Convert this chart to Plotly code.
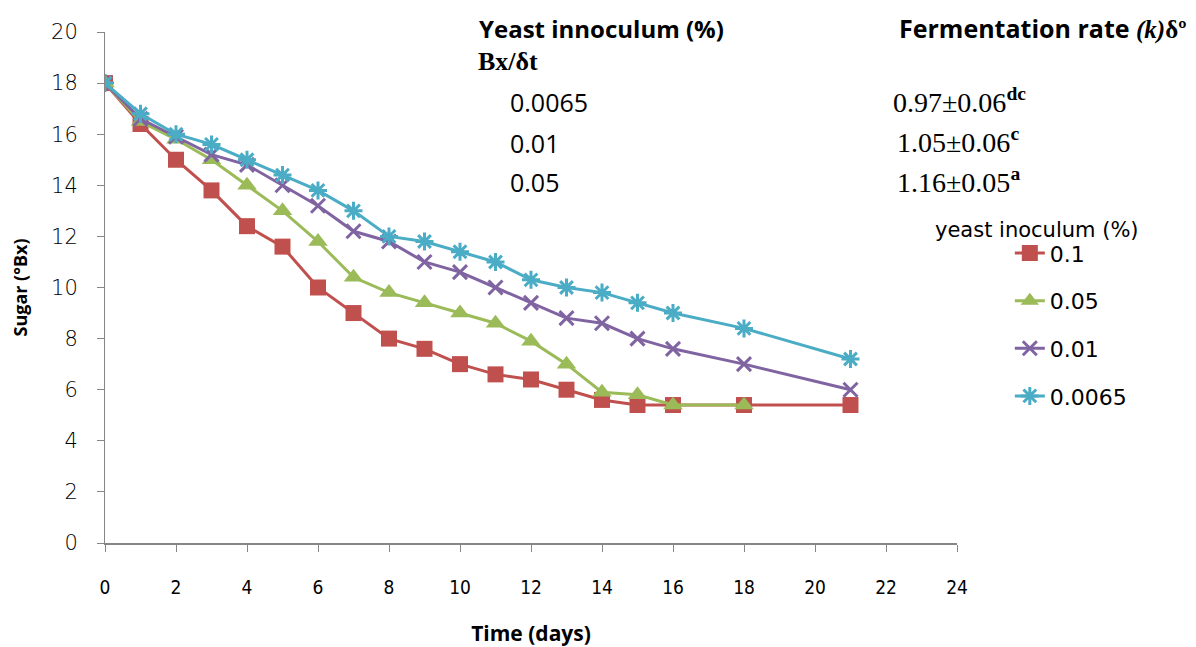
import plotly.graph_objects as go

days = [0, 1, 2, 3, 4, 5, 6, 7, 8, 9, 10, 11, 12, 13, 14, 15, 16, 18, 21]
sugar_01 = [18, 16.4, 15, 13.8, 12.4, 11.6, 10, 9, 8, 7.6, 7, 6.6, 6.4, 6, 5.6, 5.4, 5.4, 5.4, 5.4]
days_005 = [0, 1, 2, 3, 4, 5, 6, 7, 8, 9, 10, 11, 12, 13, 14, 15, 16, 18]
sugar_005 = [18, 16.5, 15.8, 15, 14, 13, 11.8, 10.4, 9.8, 9.4, 9, 8.6, 7.9, 7, 5.9, 5.8, 5.4, 5.4]
sugar_001 = [18, 16.6, 15.9, 15.2, 14.8, 14, 13.2, 12.2, 11.8, 11, 10.6, 10, 9.4, 8.8, 8.6, 8, 7.6, 7, 6]
sugar_00065 = [18, 16.8, 16, 15.6, 15, 14.4, 13.8, 13, 12, 11.8, 11.4, 11, 10.3, 10, 9.8, 9.4, 9, 8.4, 7.2]

series_names = ["0.1", "0.05", "0.01", "0.0065"]
x_ticks = list(range(0, 25, 2))
y_ticks = list(range(0, 21, 2))

table_inoculum = ["0.0065", "0.01", "0.05"]
table_rate = ["0.97±0.06", "1.05±0.06", "1.16±0.05"]
table_sup = ["dc", "c", "a"]

colors = ["#C0504D", "#9BBB59", "#8064A2", "#4BACC6"]
symbols = ["square", "triangle-up", "x-thin-open", "asterisk-open"]
sizes = [16, 17, 14, 15]
xs = [days, days_005, days, days]
ys = [sugar_01, sugar_005, sugar_001, sugar_00065]

fig = go.Figure()
for i in range(4):
    marker = dict(symbol=symbols[i], size=sizes[i], color=colors[i],
                  line=dict(color=colors[i], width=3 if i >= 2 else 0))
    fig.add_trace(go.Scatter(
        x=xs[i], y=ys[i], mode="lines+markers", name=series_names[i],
        legendgroup=f"g{i}",
        line=dict(color=colors[i], width=3),
        marker=marker,
    ))

grey = "#868686"
fig.update_layout(
    width=1196, height=647,
    paper_bgcolor="white", plot_bgcolor="white",
    margin=dict(l=97, r=247, t=18, b=112),
    showlegend=True,
    legend=dict(
        x=1.062, xanchor="left", y=0.608, yanchor="top",
        font=dict(family="DejaVu Sans", size=22, color="#000"),
        traceorder="grouped", tracegroupgap=16,
        bgcolor="rgba(0,0,0,0)", itemwidth=30,
    ),
    xaxis=dict(
        range=[0, 24], tickvals=x_ticks, showgrid=False, zeroline=False,
        showline=True, linecolor=grey, linewidth=2,
        ticks="outside", ticklen=7, tickcolor=grey, tickwidth=1,
        ticklabelstandoff=19,
        tickfont=dict(family="DejaVu Sans Condensed", size=19, color="#000"),
        title=dict(text="<b>Time (days)</b>", standoff=30,
                   font=dict(family="Open Sans", size=21, color="#000")),
    ),
    yaxis=dict(
        range=[0, 20], tickvals=y_ticks, showgrid=False, zeroline=False,
        showline=True, linecolor=grey, linewidth=1,
        ticks="outside", ticklen=7, tickcolor=grey, tickwidth=1,
        ticklabelstandoff=15,
        tickfont=dict(family="DejaVu Sans", size=21, color="#000", weight=200),
        title=dict(text="<b>Sugar (°Bx)</b>", standoff=18,
                   font=dict(family="Open Sans", size=18, color="#000")),
    ),
)

def px_x(p):
    return (p - 105) / 852

def px_y(p):
    return (543 - p) / 517

ann = []
ann.append(dict(text="<b>Yeast innoculum (%)</b>", x=px_x(477), y=px_y(22),
                font=dict(family="Open Sans", size=24, color="#000")))
ann.append(dict(text="<b>Fermentation rate <span style='font-family:Liberation Serif'><i>(k)</i>δº</span></b>",
                x=px_x(897), y=px_y(22),
                font=dict(family="Open Sans", size=25, color="#000")))
ann.append(dict(text="<b>Bx/δt</b>", x=px_x(476), y=px_y(56),
                font=dict(family="Liberation Serif", size=26, color="#000")))
row_y = [97, 138, 178]
row_x = [891, 895, 895]
for j in range(3):
    ann.append(dict(text=table_inoculum[j], x=px_x(508), y=px_y(row_y[j]),
                    font=dict(family="Open Sans", size=25, color="#000")))
    ann.append(dict(text=f"{table_rate[j]}<sup><b>{table_sup[j]}</b></sup>",
                    x=px_x(row_x[j]), y=px_y(row_y[j] - 2),
                    font=dict(family="Liberation Serif", size=28, color="#000")))
ann.append(dict(text="yeast inoculum (%)", x=px_x(933), y=px_y(226),
                font=dict(family="DejaVu Sans", size=21, color="#000")))

for a in ann:
    a.update(xref="paper", yref="paper", showarrow=False, xanchor="left", yanchor="middle")
    fig.add_annotation(**a)

fig.write_html("out.html")
